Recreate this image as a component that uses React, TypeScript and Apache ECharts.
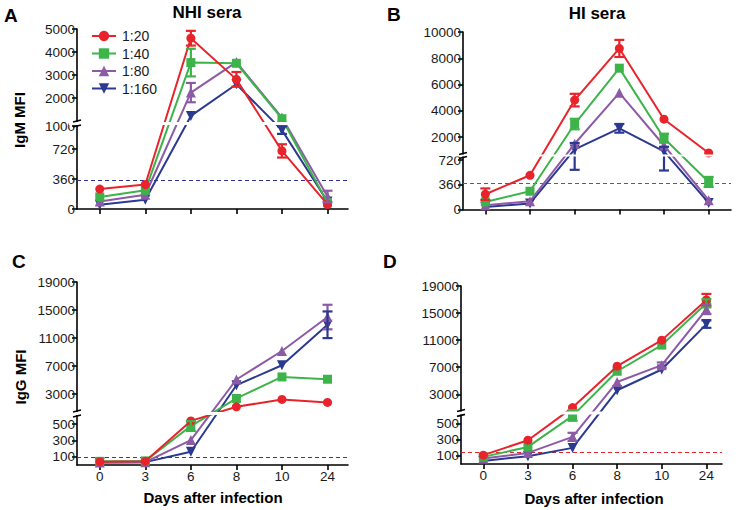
import React, { useEffect, useRef } from "react";
import * as echarts from "echarts";

const days = ["0", "3", "6", "8", "10", "24"];
const seriesNames = ["1:20", "1:40", "1:80", "1:160"];
const seriesColors = ["#e8232b", "#3cb44a", "#8d5aa6", "#2b3990"];

// Panel A: IgM, NHI sera
const igmNhi20 = [240, 295, 4600, 2810, 700, 55];
const igmNhi40 = [145, 225, 3540, 3510, 1100, 75];
const igmNhi80 = [90, 172, 2235, 3560, 1150, 150];
const igmNhi160 = [52, 112, 1220, 2600, 950, 90];
const igmNhi20Err = [0, 0, 320, 320, 80, 0];
const igmNhi40Err = [0, 0, 600, 0, 0, 0];
const igmNhi80Err = [0, 0, 420, 0, 0, 70];
const igmNhi160Err = [0, 0, 0, 0, 45, 0];

// Panel B: IgM, HI sera
const igmHi20 = [223, 500, 4820, 8750, 3370, 800];
const igmHi40 = [111, 267, 3000, 7250, 1925, 403];
const igmHi80 = [63, 121, 1500, 5375, 1370, 136];
const igmHi160 = [38, 88, 1070, 2675, 920, 96];
const igmHi20Err = [85, 0, 480, 650, 0, 0];
const igmHi40Err = [0, 0, 400, 0, 340, 73];
const igmHi80Err = [0, 0, 0, 0, 0, 0];
const igmHi160Err = [0, 0, 490, 330, 350, 0];

// Panel C: IgG, NHI sera
const iggNhi20 = [40, 45, 540, 1200, 2250, 1820];
const iggNhi40 = [45, 50, 477, 2390, 5460, 5130];
const iggNhi80 = [30, 35, 305, 5090, 9160, 14000];
const iggNhi160 = [30, 35, 162, 4280, 7125, 12900];
const iggNhi20Err = [0, 0, 0, 0, 0, 0];
const iggNhi40Err = [0, 0, 60, 0, 0, 0];
const iggNhi80Err = [0, 0, 0, 0, 0, 1750];
const iggNhi160Err = [0, 0, 0, 0, 0, 1900];

// Panel D: IgG, HI sera
const iggHi20 = [109, 294, 1030, 7150, 11000, 16930];
const iggHi40 = [88, 211, 594, 6400, 10260, 16440];
const iggHi80 = [68, 137, 335, 4820, 7300, 15550];
const iggHi160 = [38, 96, 199, 3590, 6660, 13370];
const iggHi20Err = [0, 0, 0, 0, 0, 900];
const iggHi40Err = [0, 0, 60, 0, 0, 600];
const iggHi80Err = [0, 0, 50, 0, 400, 700];
const iggHi160Err = [0, 0, 0, 0, 0, 550];

// cut-off lines
const thresholds = [350, 380, 90, 150];

// tick labels (lower / upper segments of each broken axis)
const ticksA = [0, 360, 720, 1000, 2000, 3000, 4000, 5000];
const ticksB = [0, 360, 720, 2000, 4000, 6000, 8000, 10000];
const ticksC = [100, 300, 500, 3000, 7000, 11000, 15000, 19000];
const ticksD = [100, 300, 500, 3000, 7000, 11000, 15000, 19000];

const FONT = 'Arial, "Liberation Sans", Helvetica, sans-serif';

type Panel = {
  grid: { left: number; top: number; width: number; height: number };
  xMax: number;
  // broken-axis layout: lower [0,lMax] -> [0,lH]; upper [lMax,uMax] -> [uB,uT]
  lMax: number;
  lH: number;
  uB: number;
  uMax: number;
  uT: number;
  ticks: number[];
  data: number[][];
  errs: number[][];
  threshold: number;
  thrColor: string;
  showXLabels: boolean;
};

const panels: Panel[] = [
  {
    grid: { left: 77, top: 29, width: 271, height: 180 },
    xMax: 5.45,
    lMax: 1000, lH: 83, uB: 88, uMax: 5000, uT: 180,
    ticks: ticksA,
    data: [igmNhi20, igmNhi40, igmNhi80, igmNhi160],
    errs: [igmNhi20Err, igmNhi40Err, igmNhi80Err, igmNhi160Err],
    threshold: thresholds[0],
    thrColor: "#2e3192",
    showXLabels: false,
  },
  {
    grid: { left: 463, top: 32, width: 268, height: 177.5 },
    xMax: 5.5,
    lMax: 760, lH: 52, uB: 56, uMax: 10000, uT: 177.5,
    ticks: ticksB,
    data: [igmHi20, igmHi40, igmHi80, igmHi160],
    errs: [igmHi20Err, igmHi40Err, igmHi80Err, igmHi160Err],
    threshold: thresholds[1],
    thrColor: "#e8232b",
    showXLabels: false,
  },
  {
    grid: { left: 77, top: 282, width: 271, height: 183 },
    xMax: 5.45,
    lMax: 600, lH: 49, uB: 54, uMax: 19000, uT: 183,
    ticks: ticksC,
    data: [iggNhi20, iggNhi40, iggNhi80, iggNhi160],
    errs: [iggNhi20Err, iggNhi40Err, iggNhi80Err, iggNhi160Err],
    threshold: thresholds[2],
    thrColor: "#3438a8",
    showXLabels: true,
  },
  {
    grid: { left: 461, top: 286, width: 261, height: 178 },
    xMax: 5.35,
    lMax: 600, lH: 48.6, uB: 53.5, uMax: 19000, uT: 178,
    ticks: ticksD,
    data: [iggHi20, iggHi40, iggHi80, iggHi160],
    errs: [iggHi20Err, iggHi40Err, iggHi80Err, iggHi160Err],
    threshold: thresholds[3],
    thrColor: "#e8232b",
    showXLabels: true,
  },
];

const symbols = [
  "circle",
  "rect",
  "triangle",
  "path://M0,0 L10,0 L5,9 Z",
];
const symbolSizes = [9, 9, 10, 10];

function tr(p: Panel, v: number): number {
  if (v <= p.lMax) return (v / p.lMax) * p.lH;
  return p.uB + ((v - p.lMax) / (p.uMax - p.lMax)) * (p.uT - p.uB);
}

function buildOption() {
  const grids: any[] = [];
  const xAxes: any[] = [];
  const yAxes: any[] = [];
  const series: any[] = [];

  panels.forEach((p, pi) => {
    grids.push({ ...p.grid, containLabel: false });
    const xTicks = days.map((_, i) => i);
    xAxes.push({
      type: "value",
      gridIndex: pi,
      min: -0.5,
      max: p.xMax,
      splitLine: { show: false },
      axisLine: { show: true, onZero: false, lineStyle: { color: "#000", width: 1.6 } },
      axisTick: {
        show: true,
        customValues: xTicks,
        length: 5,
        lineStyle: { color: "#000", width: 1.6 },
      },
      axisLabel: {
        show: p.showXLabels,
        customValues: xTicks,
        margin: 4,
        fontSize: 13.5,
        fontFamily: FONT,
        color: "#1a1a1a",
        formatter: (v: number) => days[Math.round(v)] ?? "",
      },
    });
    const tickPos = p.ticks.map((t) => tr(p, t));
    const labelMap: Record<string, string> = {};
    p.ticks.forEach((t, i) => {
      labelMap[tickPos[i].toFixed(3)] = String(t);
    });
    yAxes.push({
      type: "value",
      gridIndex: pi,
      min: 0,
      max: p.uT,
      splitLine: { show: false },
      axisLine: { show: true, onZero: false, lineStyle: { color: "#000", width: 1.6 } },
      axisTick: {
        show: true,
        customValues: tickPos,
        length: 5,
        lineStyle: { color: "#000", width: 1.6 },
      },
      axisLabel: {
        show: true,
        customValues: tickPos,
        margin: 2,
        fontSize: 13.5,
        fontFamily: FONT,
        color: "#1a1a1a",
        formatter: (v: number) => labelMap[v.toFixed(3)] ?? "",
      },
    });

    p.data.forEach((vals, si) => {
      series.push({
        type: "line",
        name: seriesNames[si],
        xAxisIndex: pi,
        yAxisIndex: pi,
        data: vals.map((v, i) => [i, tr(p, v)]),
        symbol: symbols[si],
        symbolSize: symbolSizes[si],
        lineStyle: { width: 2, color: seriesColors[si] },
        itemStyle: { color: seriesColors[si] },
        z: 2 + (3 - si) * 0.1,
        clip: false,
        markLine:
          si === 0
            ? {
                silent: true,
                symbol: ["none", "none"],
                label: { show: false },
                lineStyle: { type: [4, 3], width: 1, color: p.thrColor },
                data: [{ yAxis: tr(p, p.threshold) }],
                z: 1,
              }
            : undefined,
      });
      const errData = vals
        .map((v, i) => [i, tr(p, v - p.errs[si][i]), tr(p, v + p.errs[si][i]), p.errs[si][i]])
        .filter((d) => d[3] > 0);
      if (errData.length) {
        const color = seriesColors[si];
        series.push({
          type: "custom",
          name: seriesNames[si],
          xAxisIndex: pi,
          yAxisIndex: pi,
          data: errData,
          z: 3,
          encode: { x: 0, y: [1, 2] },
          renderItem: (params: any, api: any) => {
            const x = api.value(0);
            const lo = api.coord([x, api.value(1)]);
            const hi = api.coord([x, api.value(2)]);
            const w = 5;
            const st = { stroke: color, lineWidth: 2.2 };
            return {
              type: "group",
              children: [
                { type: "line", shape: { x1: lo[0], y1: lo[1], x2: hi[0], y2: hi[1] }, style: st },
                { type: "line", shape: { x1: lo[0] - w, y1: lo[1], x2: lo[0] + w, y2: lo[1] }, style: st },
                { type: "line", shape: { x1: hi[0] - w, y1: hi[1], x2: hi[0] + w, y2: hi[1] }, style: st },
              ],
            };
          },
        });
      }
    });

    // axis break: white band across the plot and break marks on the axis
    series.push({
      type: "custom",
      xAxisIndex: pi,
      yAxisIndex: pi,
      data: [[p.lH, p.uB]],
      z: 10,
      silent: true,
      renderItem: (params: any, api: any) => {
        const lowTop = api.coord([-0.5, api.value(0)]);
        const upBot = api.coord([p.xMax, api.value(1)]);
        const ax = lowTop[0];
        const y1 = upBot[1] + 0.9;
        const y2 = lowTop[1] - 0.9;
        const h = Math.max(y2 - y1, 0.5);
        const mk = { stroke: "#000", lineWidth: 1.6 };
        return {
          type: "group",
          children: [
            {
              type: "rect",
              shape: { x: ax - 8, y: y1, width: upBot[0] - ax + 10, height: h },
              style: { fill: "#fff" },
            },
            { type: "line", shape: { x1: ax - 4, y1: upBot[1] + 1, x2: ax + 4, y2: upBot[1] - 1 }, style: mk },
            { type: "line", shape: { x1: ax - 4, y1: lowTop[1] + 1, x2: ax + 4, y2: lowTop[1] - 1 }, style: mk },
          ],
        };
      },
    });
  });

  const txt = (text: string, x: number, y: number, size: number, align = "left", rot = 0) => ({
    type: "text",
    x,
    y,
    rotation: rot,
    style: {
      text,
      fontSize: size,
      fontWeight: "bold",
      fontFamily: FONT,
      fill: "#000",
      align,
      verticalAlign: "middle",
    },
    z: 20,
  });

  return {
    animation: false,
    backgroundColor: "#fff",
    grid: grids,
    xAxis: xAxes,
    yAxis: yAxes,
    series,
    legend: {
      data: seriesNames.map((n) => ({ name: n })),
      orient: "vertical",
      left: 86,
      top: 24,
      itemGap: 3.5,
      itemWidth: 24,
      itemHeight: 13,
      textStyle: { fontSize: 14, fontFamily: FONT, color: "#1a1a1a", padding: [0, 0, 0, 1] },
      selectedMode: false,
    },
    graphic: [
      txt("A", 4, 15, 19),
      txt("B", 387, 14, 19),
      txt("C", 12, 261, 19),
      txt("D", 383, 261, 19),
      txt("NHI sera", 207, 12, 17, "center"),
      txt("HI sera", 597, 13, 17, "center"),
      txt("IgM MFI", 19, 120, 15, "center", Math.PI / 2),
      txt("IgG MFI", 20, 377, 15, "center", Math.PI / 2),
      txt("Days after infection", 213, 497, 15, "center"),
      txt("Days after infection", 594, 498, 15, "center"),
    ],
  };
}

export default function App() {
  const ref = useRef<HTMLDivElement>(null);
  useEffect(() => {
    if (!ref.current) return;
    const chart = echarts.init(ref.current, undefined, { renderer: "svg" });
    chart.setOption(buildOption() as any);
    return () => chart.dispose();
  }, []);
  return (
    <div
      ref={ref}
      style={{ width: 736, height: 510, position: "absolute", left: 0, top: 0, background: "#fff" }}
    />
  );
}
